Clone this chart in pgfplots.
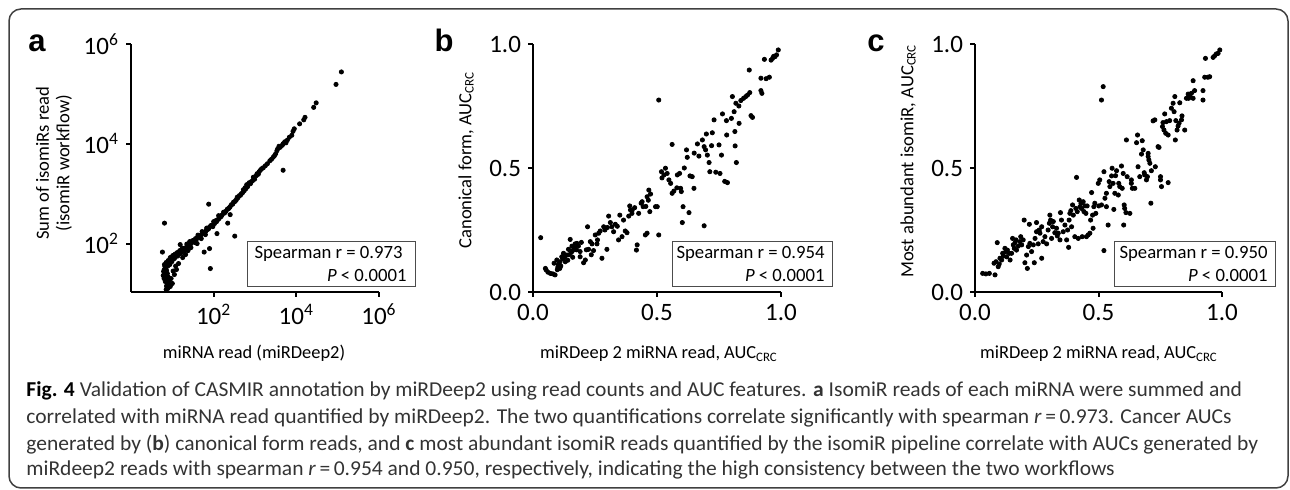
\documentclass[border=0pt]{standalone}
\usepackage{fontspec}
\setmainfont{Carlito}
\newfontfamily\letterfont{Liberation Sans}
\newfontfamily\capfont{Carlito}[FakeStretch=1.015]
\usepackage{pgfplots}
\pgfplotsset{compat=1.18}
\usepackage{pgfplotstable}

% panel a: log10 values
\pgfplotstableread{
lx ly
5.09 5.44
4.96 5.19
4.48 4.82
4.42 4.73
4.21 4.53
4.18 4.48
4.08 4.40
3.92 4.25
3.89 4.17
3.83 4.13
3.78 4.07
3.72 4.04
3.68 4.00
3.66 3.97
3.61 3.93
3.55 3.90
3.53 3.86
3.47 3.76
3.44 3.73
3.40 3.69
3.25 3.56
3.20 3.52
3.13 3.47
3.10 3.44
3.08 3.39
3.03 3.36
2.99 3.29
2.94 3.26
2.89 3.20
2.82 3.14
2.78 3.10
2.74 3.06
2.70 3.02
2.65 2.97
2.59 2.92
2.55 2.88
2.51 2.84
2.46 2.79
2.40 2.74
2.36 2.70
2.30 2.65
2.26 2.61
2.20 2.57
2.15 2.53
2.10 2.48
2.07 2.44
2.02 2.40
1.96 2.37
1.90 2.33
1.85 2.28
1.81 2.25
1.74 2.21
1.69 2.17
1.64 2.13
1.58 2.08
1.52 2.05
1.46 2.01
1.40 1.97
1.33 1.92
1.27 1.88
1.22 1.85
1.16 1.81
1.10 1.77
1.03 1.73
0.98 1.69
0.93 1.65
0.87 1.61
0.82 1.54
0.80 1.47
0.82 1.40
0.87 1.32
0.91 1.18
0.85 1.08
3.95 4.30
3.75 4.02
3.58 3.95
3.50 3.80
3.36 3.66
3.30 3.60
3.16 3.50
3.05 3.40
2.96 3.33
2.91 3.24
2.86 3.22
2.80 3.18
2.76 3.12
2.72 3.08
2.67 3.00
2.62 2.96
2.57 2.93
2.53 2.86
2.48 2.83
2.43 2.78
2.38 2.72
2.33 2.69
2.28 2.63
2.24 2.63
2.18 2.54
2.13 2.50
2.12 2.56
2.05 2.46
2.00 2.44
1.98 2.34
1.93 2.36
1.88 2.30
1.83 2.31
1.78 2.22
1.72 2.24
1.67 2.15
1.62 2.17
1.56 2.10
1.55 2.02
1.49 2.06
1.44 1.99
1.42 2.04
1.37 1.94
1.35 1.99
1.30 1.90
1.29 1.84
1.24 1.91
1.20 1.80
1.18 1.86
1.13 1.75
1.12 1.82
1.07 1.79
1.05 1.70
1.01 1.76
0.99 1.64
0.95 1.72
0.94 1.58
0.90 1.66
0.89 1.55
0.85 1.62
0.84 1.50
0.81 1.58
0.79 1.44
0.83 1.43
0.86 1.46
0.78 1.36
0.84 1.36
0.88 1.40
0.80 1.30
0.86 1.27
0.90 1.33
0.83 1.24
0.88 1.22
0.93 1.26
0.86 1.15
0.95 1.14
0.89 1.10
1.00 1.20
0.97 1.30
1.02 1.45
1.05 1.38
1.08 1.55
1.10 1.48
1.15 1.60
1.25 1.72
1.32 1.78
1.38 1.86
1.45 1.92
1.60 2.00
1.70 2.10
1.80 2.18
3.68 3.47
1.88 2.79
0.81 2.41
2.40 2.58
2.34 2.41
2.51 2.15
1.90 1.90
1.77 1.83
1.92 1.50
2.08 2.20
0.76 1.83
1.19 1.98
}\dataA

\pgfplotstableread{
x y
0.031 0.219
0.053 0.089
0.050 0.095
0.080 0.073
0.089 0.069
0.085 0.116
0.096 0.129
0.103 0.112
0.109 0.122
0.116 0.142
0.123 0.156
0.130 0.122
0.136 0.149
0.143 0.172
0.150 0.212
0.157 0.185
0.163 0.169
0.170 0.194
0.177 0.196
0.190 0.142
0.190 0.163
0.204 0.118
0.211 0.129
0.220 0.263
0.224 0.172
0.231 0.203
0.238 0.194
0.244 0.167
0.251 0.230
0.258 0.194
0.265 0.237
0.271 0.246
0.278 0.136
0.285 0.263
0.298 0.172
0.305 0.306
0.312 0.280
0.318 0.263
0.325 0.243
0.332 0.273
0.345 0.210
0.350 0.310
0.359 0.223
0.372 0.246
0.379 0.239
0.386 0.306
0.390 0.347
0.393 0.331
0.399 0.317
0.417 0.169
0.420 0.190
0.426 0.317
0.436 0.358
0.440 0.364
0.444 0.344
0.453 0.230
0.460 0.237
0.460 0.384
0.467 0.411
0.471 0.324
0.474 0.395
0.494 0.344
0.501 0.344
0.507 0.230
0.518 0.485
0.528 0.472
0.534 0.499
0.541 0.478
0.548 0.452
0.555 0.438
0.561 0.595
0.561 0.398
0.568 0.407
0.582 0.472
0.591 0.478
0.595 0.418
0.598 0.405
0.602 0.280
0.605 0.344
0.619 0.573
0.622 0.543
0.629 0.320
0.633 0.468
0.642 0.465
0.649 0.418
0.663 0.597
0.669 0.548
0.683 0.613
0.690 0.267
0.690 0.586
0.696 0.573
0.699 0.637
0.703 0.552
0.710 0.522
0.713 0.485
0.723 0.642
0.730 0.694
0.737 0.483
0.750 0.593
0.754 0.478
0.760 0.552
0.764 0.718
0.773 0.446
0.780 0.691
0.781 0.633
0.784 0.441
0.804 0.788
0.811 0.727
0.814 0.647
0.815 0.589
0.818 0.761
0.820 0.522
0.831 0.680
0.838 0.772
0.849 0.781
0.858 0.788
0.865 0.794
0.872 0.895
0.874 0.804
0.879 0.711
0.885 0.704
0.919 0.812
0.923 0.801
0.919 0.862
0.933 0.938
0.953 0.866
0.960 0.935
0.966 0.942
0.976 0.949
0.982 0.956
0.989 0.976
0.507 0.774
0.100 0.100
0.112 0.105
0.120 0.135
0.127 0.140
0.140 0.128
0.145 0.150
0.155 0.160
0.160 0.140
0.168 0.178
0.175 0.170
0.183 0.185
0.195 0.200
0.060 0.080
0.070 0.075
0.098 0.090
0.108 0.095
0.215 0.170
0.235 0.150
0.260 0.210
0.290 0.250
0.300 0.260
0.340 0.265
0.365 0.290
0.400 0.330
0.410 0.340
0.455 0.345
0.465 0.370
0.520 0.460
0.580 0.420
0.610 0.500
0.650 0.560
0.720 0.590
0.800 0.700
0.830 0.750
0.940 0.860
0.970 0.950
}\dataB

\pgfplotstableread{
x y
0.031 0.075
0.044 0.073
0.058 0.075
0.081 0.069
0.077 0.116
0.085 0.122
0.090 0.199
0.094 0.102
0.098 0.113
0.101 0.136
0.108 0.129
0.112 0.156
0.115 0.145
0.121 0.176
0.125 0.163
0.128 0.142
0.131 0.169
0.139 0.156
0.142 0.129
0.148 0.156
0.152 0.216
0.155 0.190
0.159 0.176
0.162 0.199
0.166 0.210
0.168 0.169
0.175 0.185
0.182 0.203
0.185 0.223
0.189 0.190
0.195 0.210
0.199 0.290
0.202 0.118
0.209 0.149
0.212 0.095
0.216 0.183
0.220 0.273
0.222 0.196
0.229 0.163
0.236 0.190
0.240 0.118
0.243 0.216
0.249 0.280
0.249 0.243
0.256 0.194
0.260 0.250
0.263 0.237
0.270 0.136
0.270 0.263
0.276 0.203
0.283 0.223
0.290 0.194
0.296 0.250
0.301 0.277
0.303 0.310
0.306 0.290
0.310 0.216
0.314 0.263
0.317 0.284
0.323 0.239
0.330 0.257
0.333 0.226
0.337 0.237
0.344 0.210
0.346 0.320
0.350 0.290
0.357 0.243
0.364 0.270
0.371 0.210
0.375 0.250
0.379 0.180
0.381 0.290
0.384 0.317
0.388 0.328
0.391 0.263
0.395 0.351
0.398 0.310
0.404 0.223
0.408 0.337
0.411 0.462
0.414 0.324
0.418 0.216
0.422 0.371
0.425 0.344
0.429 0.358
0.431 0.337
0.434 0.223
0.438 0.364
0.441 0.324
0.445 0.347
0.449 0.317
0.451 0.223
0.454 0.347
0.458 0.230
0.465 0.237
0.468 0.290
0.472 0.401
0.476 0.310
0.478 0.257
0.481 0.344
0.485 0.358
0.489 0.317
0.499 0.438
0.501 0.347
0.505 0.452
0.512 0.774
0.512 0.351
0.519 0.828
0.522 0.485
0.522 0.167
0.526 0.378
0.532 0.344
0.532 0.398
0.539 0.270
0.543 0.445
0.546 0.425
0.553 0.468
0.555 0.499
0.559 0.438
0.562 0.333
0.566 0.398
0.569 0.469
0.573 0.489
0.580 0.391
0.582 0.438
0.586 0.425
0.593 0.508
0.596 0.418
0.600 0.478
0.602 0.270
0.604 0.351
0.606 0.337
0.611 0.320
0.613 0.613
0.616 0.465
0.627 0.317
0.633 0.438
0.633 0.452
0.637 0.418
0.647 0.418
0.654 0.602
0.658 0.633
0.660 0.505
0.667 0.465
0.674 0.556
0.677 0.610
0.681 0.573
0.685 0.481
0.687 0.472
0.694 0.452
0.698 0.465
0.701 0.559
0.701 0.546
0.704 0.532
0.708 0.519
0.712 0.358
0.714 0.489
0.721 0.690
0.728 0.694
0.730 0.505
0.741 0.586
0.745 0.583
0.751 0.465
0.751 0.452
0.755 0.425
0.759 0.667
0.761 0.683
0.765 0.653
0.768 0.718
0.772 0.640
0.775 0.687
0.782 0.441
0.782 0.633
0.788 0.691
0.795 0.741
0.802 0.761
0.806 0.727
0.809 0.788
0.811 0.613
0.813 0.691
0.818 0.653
0.822 0.669
0.826 0.680
0.829 0.763
0.836 0.694
0.838 0.710
0.849 0.653
0.856 0.781
0.863 0.798
0.865 0.781
0.869 0.788
0.876 0.801
0.883 0.852
0.883 0.781
0.889 0.812
0.923 0.812
0.923 0.774
0.930 0.866
0.933 0.942
0.943 0.866
0.950 0.868
0.964 0.946
0.970 0.952
0.977 0.960
0.984 0.962
0.991 0.976
}\dataC

\pgfplotsset{
  panel/.style={
    scale only axis, width=124pt, height=124pt,
    axis lines=left, axis line style={-, line width=1pt},
    every tick/.style={black, line width=1pt},
    tick align=outside, major tick length=2.5pt,
    tick label style={font=\fontsize{12.5}{14}\selectfont},
    clip=false,
  },
  unit/.style={
    xmin=0, xmax=1, ymin=0, ymax=1,
    xtick={0,0.5,1}, ytick={0,0.5,1},
    xticklabels={0.0,0.5,1.0}, yticklabels={0.0,0.5,1.0},
  },
  dots/.style={only marks, mark=*, mark size=1.05pt, black},
}

\begin{document}
\begin{tikzpicture}
\useasboundingbox (0pt,0pt) rectangle (645pt,245pt);
\draw[line width=0.75pt, black!75, rounded corners=6pt] (4.5pt,1pt) rectangle (644pt,240.5pt);

% panel a
\begin{axis}[panel, at={(65.5pt,99pt)}, anchor=south west,
  xmin=0, xmax=6, ymin=1.03, ymax=6,
  xtick={2,4,6}, ytick={2,4,6},
  xticklabels={10\textsuperscript{2},10\textsuperscript{4},10\textsuperscript{6}},
  yticklabels={10\textsuperscript{2},10\textsuperscript{4},10\textsuperscript{6}}]
\addplot[dots] table[x=lx,y=ly]{\dataA};
\end{axis}

% panel b
\begin{axis}[panel, unit, at={(266.5pt,99pt)}, anchor=south west]
\addplot[dots] table[x=x,y=y]{\dataB};
\end{axis}

% panel c
\begin{axis}[panel, unit, at={(487.5pt,99pt)}, anchor=south west, width=123.5pt]
\addplot[dots] table[x=x,y=y]{\dataC};
\end{axis}

% panel letters
\node[anchor=base, font=\letterfont\bfseries\fontsize{15.5}{16}\selectfont] at (18.5pt,219pt) {a};
\node[anchor=base, font=\letterfont\bfseries\fontsize{15.5}{16}\selectfont] at (222pt,219pt) {b};
\node[anchor=base, font=\letterfont\bfseries\fontsize{15.5}{16}\selectfont] at (438pt,219pt) {c};

% y labels
\node[rotate=90, align=center, font=\fontsize{9.3}{10.2}\selectfont] at (27pt,163.5pt) {Sum of isomiRs read\\(isomiR workflow)};
\node[rotate=90, font=\fontsize{9.3}{8.5}\selectfont] at (233pt,165pt) {Canonical form, AUC\textsubscript{CRC}};
\node[rotate=90, font=\fontsize{9.3}{8.5}\selectfont] at (454pt,164.5pt) {Most abundant isomiR, AUC\textsubscript{CRC}};

% x labels
\node[anchor=base, font=\fontsize{9.2}{11}\selectfont] at (127pt,65.5pt) {miRNA read (miRDeep2)};
\node[anchor=base, font=\fontsize{9.2}{11}\selectfont] at (329.5pt,65.5pt) {miRDeep 2 miRNA read, AUC\textsubscript{CRC}};
\node[anchor=base, font=\fontsize{9.2}{11}\selectfont] at (549.5pt,65.5pt) {miRDeep 2 miRNA read, AUC\textsubscript{CRC}};

% stat boxes
\begin{scope}[every node/.style={font=\fontsize{9.35}{11}\selectfont, inner sep=0pt}]
\draw[black!70, line width=0.5pt, fill=white] (123.5pt,101.5pt) rectangle (207.5pt,124pt);
\node[anchor=base east] at (201.5pt,115.5pt) {Spearman r = 0.973};
\node[anchor=base east] at (203.5pt,104pt) {\textit{P} < 0.0001};
\draw[black!70, line width=0.5pt, fill=white] (336pt,101.5pt) rectangle (416pt,124pt);
\node[anchor=base east] at (412.5pt,115.5pt) {Spearman r = 0.954};
\node[anchor=base east] at (412.5pt,104pt) {\textit{P} < 0.0001};
\draw[black!70, line width=0.5pt, fill=white] (557pt,101.5pt) rectangle (637.5pt,124pt);
\node[anchor=base east] at (634pt,115.5pt) {Spearman r = 0.950};
\node[anchor=base east] at (634pt,104pt) {\textit{P} < 0.0001};
\end{scope}

% caption
\begin{scope}[every node/.style={anchor=base west, inner sep=0pt, text=black!80, font=\capfont\fontsize{10.6}{12}\selectfont}]
\node at (13pt,46.5pt) {\textbf{\color{black}Fig. 4} Validation of CASMIR annotation by miRDeep2 using read counts and AUC features. \textbf{a} IsomiR reads of each miRNA were summed and};
\node at (13pt,33pt) {correlated with miRNA read quantified by miRDeep2. The two quantifications correlate significantly with spearman \textit{r}\,=\,0.973. Cancer AUCs};
\node at (13pt,19.5pt) {generated by (\textbf{b}) canonical form reads, and \textbf{c} most abundant isomiR reads quantified by the isomiR pipeline correlate with AUCs generated by};
\node at (13pt,7pt) {miRdeep2 reads with spearman \textit{r}\,=\,0.954 and 0.950, respectively, indicating the high consistency between the two workflows};
\end{scope}
\end{tikzpicture}
\end{document}
